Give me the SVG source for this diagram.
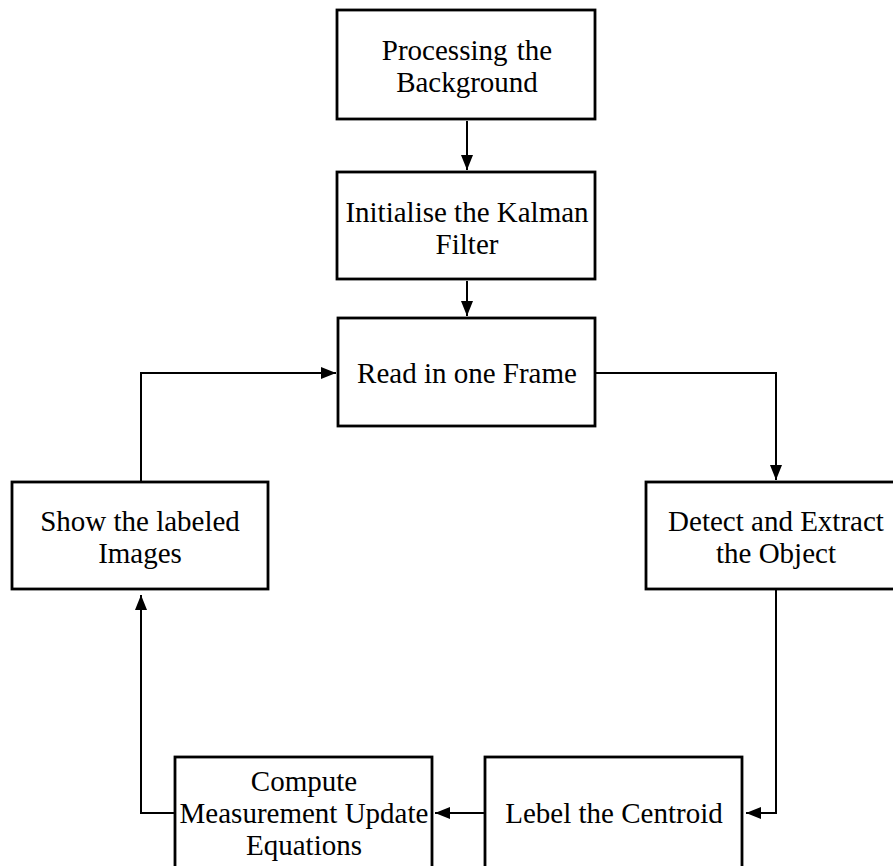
<svg xmlns="http://www.w3.org/2000/svg" width="893" height="866" viewBox="0 0 893 866">
<style>
.box{fill:#fff;stroke:#000;stroke-width:2.8}
.lbl{font-family:"Liberation Serif","Times New Roman",serif;font-size:29px;fill:#000;text-anchor:middle}
.con{fill:none;stroke:#000;stroke-width:2}
</style>
<defs>
<marker id="ah" markerUnits="userSpaceOnUse" markerWidth="16" markerHeight="12" refX="15" refY="6" orient="auto">
<path d="M0,0 L15,6 L0,12 Z" fill="#000"/>
</marker>
</defs>
<rect width="893" height="866" fill="#fff"/>
<g id="connectors">
<path class="con" d="M467,121 V170" marker-end="url(#ah)"/>
<path class="con" d="M467,281 V316" marker-end="url(#ah)"/>
<path class="con" d="M596,373 H776 V480" marker-end="url(#ah)"/>
<path class="con" d="M776,590 V813 H746" marker-end="url(#ah)"/>
<path class="con" d="M485,813 H435" marker-end="url(#ah)"/>
<path class="con" d="M175,813 H141 V595" marker-end="url(#ah)"/>
<path class="con" d="M141,481 V373 H336" marker-end="url(#ah)"/>
</g>
<g id="n1">
<rect class="box" x="337" y="10" width="258" height="109"/>
<text class="lbl" x="467" y="60" word-spacing="2">Processing the</text>
<text class="lbl" x="467" y="92">Background</text>
</g>
<g id="n2">
<rect class="box" x="337" y="172" width="258" height="107"/>
<text class="lbl" x="467" y="222">Initialise the Kalman</text>
<text class="lbl" x="467" y="254">Filter</text>
</g>
<g id="n3">
<rect class="box" x="338" y="318" width="257" height="108"/>
<text class="lbl" x="467" y="383">Read in one Frame</text>
</g>
<g id="n4">
<rect class="box" x="646" y="482" width="258" height="107"/>
<text class="lbl" x="776" y="531">Detect and Extract</text>
<text class="lbl" x="776" y="563">the Object</text>
</g>
<g id="n5">
<rect class="box" x="485" y="757" width="257" height="120"/>
<text class="lbl" x="614" y="823">Lebel the Centroid</text>
</g>
<g id="n6">
<rect class="box" x="175" y="757" width="257" height="120"/>
<text class="lbl" x="304" y="791">Compute</text>
<text class="lbl" x="304" y="823">Measurement Update</text>
<text class="lbl" x="304" y="855">Equations</text>
</g>
<g id="n7">
<rect class="box" x="12" y="482" width="256" height="107"/>
<text class="lbl" x="140" y="531">Show the labeled</text>
<text class="lbl" x="140" y="563">Images</text>
</g>
</svg>
